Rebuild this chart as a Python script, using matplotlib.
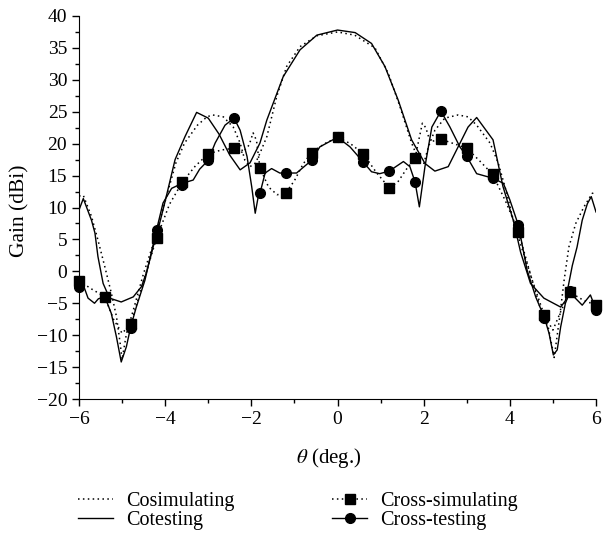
import matplotlib
matplotlib.use("Agg")
import matplotlib.pyplot as plt
from matplotlib.ticker import MultipleLocator

plt.rcParams["font.family"] = ["Liberation Serif", "DejaVu Serif"]
plt.rcParams["mathtext.fontset"] = "stix"

# co-polar curves
cosim_theta = [-6.0, -5.9, -5.71, -5.56, -5.4, -5.25, -5.13, -5.05, -5.0, -4.9, -4.72, -4.5,
               -4.3, -4.1, -3.95, -3.75, -3.55, -3.25, -3.03, -2.9, -2.65, -2.42, -2.26,
               -2.15, -2.03, -1.9, -1.8, -1.64, -1.41, -1.18, -0.87, -0.48, 0.0, 0.4, 0.87,
               1.18, 1.45, 1.72, 1.91, 2.0, 2.11, 2.26, 2.49, 2.8, 3.03, 3.23, 3.54, 3.73,
               3.93, 4.08, 4.27, 4.47, 4.7, 4.89, 5.03, 5.15, 5.26, 5.37, 5.53, 5.72, 5.91, 6.0]
cosim_gain = [11.8, 11.9, 8.6, 4.9, 0.7, -3.4, -7.1, -11.0, -13.8, -9.8, -5.6, -0.3,
              3.8, 8.5, 12.2, 17.0, 20.1, 22.9, 24.2, 24.5, 24.2, 22.6, 20.1,
              17.4, 16.4, 17.0, 18.5, 21.1, 27.4, 32.1, 35.2, 36.9, 37.5, 37.0, 35.0,
              31.0, 25.8, 20.1, 17.0, 16.8, 19.5, 22.1, 24.0, 24.5, 24.2, 22.9, 20.1, 17.0,
              12.2, 8.0, 3.8, -0.3, -5.6, -8.7, -13.5, -7.5, -1.4, 3.8, 7.5, 10.1, 12.2, 12.4]

cotest_theta = [-6.0, -5.9, -5.71, -5.63, -5.56, -5.44, -5.29, -5.02, -4.74, -4.55, -4.44,
                -4.28, -4.13, -4.0, -3.77, -3.54, -3.27, -3.0, -2.75, -2.5, -2.26, -2.03,
                -1.8, -1.64, -1.26, -0.87, -0.48, 0.0, 0.41, 0.79, 1.10, 1.41, 1.72, 2.03,
                2.26, 2.57, 3.03, 3.23, 3.61, 3.84, 4.08, 4.25, 4.48, 4.79, 5.18, 5.29, 5.45,
                5.56, 5.68, 5.8, 5.89, 6.0]
cotest_gain = [9.6, 11.4, 8.0, 6.0, 2.3, -1.9, -4.2, -4.8, -4.0, -2.4, -0.3,
               3.8, 7.5, 11.0, 17.5, 21.1, 24.9, 24.0, 21.5, 18.2, 15.9, 17.0,
               20.1, 23.7, 30.5, 34.7, 37.0, 37.8, 37.4, 35.7, 32.1, 26.8, 20.6, 16.9,
               15.7, 16.4, 22.6, 24.1, 20.6, 13.3, 8.0, 3.0, -1.9, -4.2, -5.6, -4.6, 0.9,
               3.8, 8.0, 10.6, 11.7, 9.3]

# cross-polar curves
xsim_theta = [-6.0, -5.7, -5.4, -5.2, -5.0, -4.8, -4.5, -4.2, -3.9, -3.6, -3.3, -3.0, -2.7,
              -2.4, -2.2, -2.05, -1.96, -1.88, -1.8, -1.6, -1.4, -1.2, -1.0, -0.8, -0.6,
              -0.3, 0.0, 0.3, 0.6, 0.9, 1.2, 1.4, 1.6, 1.8, 1.9, 1.97, 2.05, 2.15, 2.4,
              2.7, 3.0, 3.3, 3.6, 3.9, 4.2, 4.5, 4.8, 5.0, 5.2, 5.4, 5.7, 6.0]
xsim_gain = [-1.5, -2.8, -4.0, -7.5, -9.7, -8.3, -1.5, 5.2, 10.5, 14.0, 16.5, 18.4, 19.0,
             19.3, 18.6, 19.8, 21.7, 20.5, 16.2, 13.2, 12.0, 12.3, 14.2, 16.8, 18.6,
             20.0, 21.0, 20.0, 18.4, 15.5, 13.1, 14.0, 16.0, 17.7, 21.0, 23.2, 22.5, 20.3, 20.7,
             20.0, 19.3, 17.3, 15.2, 11.0, 6.2, -1.0, -6.9, -9.2, -6.0, -3.3, -4.5, -5.3]

xtest_theta = [-6.0, -5.94, -5.79, -5.64, -5.55, -5.4, -5.25, -5.13, -5.02, -4.9, -4.8, -4.67,
               -4.47, -4.2, -4.05, -3.85, -3.6, -3.35, -3.2, -3.0, -2.84, -2.61, -2.4, -2.26,
               -2.1, -1.99, -1.91, -1.84, -1.8, -1.68, -1.53, -1.34, -1.2, -0.95, -0.6,
               -0.41, 0.0, 0.29, 0.6, 0.79, 0.98, 1.2, 1.53, 1.68, 1.8, 1.9, 2.03, 2.19,
               2.4, 2.61, 2.84, 3.0, 3.23, 3.6, 3.85, 4.0, 4.2, 4.4, 4.6, 4.8, 4.91, 5.01,
               5.1, 5.18, 5.29, 5.4, 5.52, 5.68, 5.87, 6.0]
xtest_gain = [-2.2, -1.4, -4.2, -5.0, -4.3, -4.0, -6.6, -10.3, -14.2, -11.8, -8.7, -5.6,
              -1.4, 6.5, 10.7, 13.0, 13.8, 14.3, 16.0, 17.4, 20.1, 22.9, 24.0, 22.1,
              18.0, 13.2, 9.1, 11.7, 12.2, 15.4, 16.1, 15.4, 15.4, 15.4, 17.4,
              19.5, 21.0, 19.5, 17.1, 15.6, 15.3, 15.7, 17.2, 16.4, 14.0, 10.1, 16.4, 22.6,
              25.1, 22.6, 19.5, 18.0, 15.3, 14.6, 13.8, 11.2, 7.2, 0.2, -4.0, -7.2, -9.7, -13.1,
              -12.3, -8.7, -5.0, -3.1, -4.2, -5.3, -3.7, -6.0]

# sample points (markers)
pt_theta = [-6.0, -5.4, -4.8, -4.2, -3.6, -3.0, -2.4, -1.8, -1.2, -0.6, 0.0,
            0.6, 1.2, 1.8, 2.4, 3.0, 3.6, 4.2, 4.8, 5.4, 6.0]
xsim_pts = [-1.5, -4.0, -8.3, 5.2, 14.0, 18.4, 19.3, 16.2, 12.3, 18.6, 21.0,
            18.4, 13.1, 17.7, 20.7, 19.3, 15.2, 6.2, -6.9, -3.3, -5.3]
xtest_pts = [-2.4, -4.0, -8.8, 6.5, 13.6, 17.4, 24.0, 12.3, 15.4, 17.4, 21.0,
             17.1, 15.7, 14.0, 25.1, 18.0, 14.6, 7.2, -7.3, -3.1, -6.0]

DOT = (0, (1, 2.2))

fig = plt.figure(figsize=(6.04, 5.34), dpi=100)
ax = fig.add_axes([79 / 604, 1 - 399 / 534, 517 / 604, 383 / 534])

ax.plot(cosim_theta, cosim_gain, color="black", lw=1.1, ls=DOT)
ax.plot(cotest_theta, cotest_gain, color="black", lw=1.0)
ax.plot(xsim_theta, xsim_gain, color="black", lw=1.1, ls=DOT)
ax.plot(xtest_theta, xtest_gain, color="black", lw=1.0)
ax.plot(pt_theta, xsim_pts, ls="none", marker="s", ms=6.5, color="black", clip_on=False)
ax.plot(pt_theta, xtest_pts, ls="none", marker="o", ms=7, color="black", clip_on=False)

ax.set_xlim(-6, 6)
ax.set_ylim(-20, 40)
ax.xaxis.set_minor_locator(MultipleLocator(1))
ax.yaxis.set_minor_locator(MultipleLocator(2.5))
for side in ("top", "right"):
    ax.spines[side].set_visible(False)
ax.tick_params(which="major", direction="out", length=5, width=1, labelsize=14)
ax.tick_params(which="minor", direction="out", length=3, width=1)
ax.set_xticks([-6, -4, -2, 0, 2, 4, 6])
ax.set_xticklabels(["\u22126", "\u22124", "\u22122", "0", "2", "4", "6"])
ax.set_yticks(range(-20, 41, 5))
ax.set_yticklabels([str(v).replace("-", "\u2212") for v in range(-20, 41, 5)])

ax.set_xlabel(r"$\theta$ (deg.)", fontsize=15)
ax.xaxis.set_label_coords((329 - 79) / 517, (399 - 446) / 383)
ax.set_ylabel("Gain (dBi)", fontsize=15.5)
ax.yaxis.set_label_coords((29 - 79) / 517, (399 - 211) / 383)

h1, = ax.plot([], [], color="black", lw=1.1, ls=DOT)
h2, = ax.plot([], [], color="black", lw=1.0)
h3, = ax.plot([], [], color="black", lw=1.1, ls=DOT, marker="s", ms=6.5)
h4, = ax.plot([], [], color="black", lw=1.0, marker="o", ms=7)

leg_kw = dict(frameon=False, fontsize=14.5, loc="upper left", borderpad=0, borderaxespad=0,
              handlelength=1.75, handletextpad=0.65, labelspacing=0.0)
fig.legend([h1, h2], ["Cosimulating", "Cotesting"],
           bbox_to_anchor=(78 / 604, 1 - 492 / 534), **leg_kw)
fig.legend([h3, h4], ["Cross-simulating", "Cross-testing"],
           bbox_to_anchor=(332 / 604, 1 - 492 / 534), **leg_kw)

fig.savefig("out.png", dpi=100)
